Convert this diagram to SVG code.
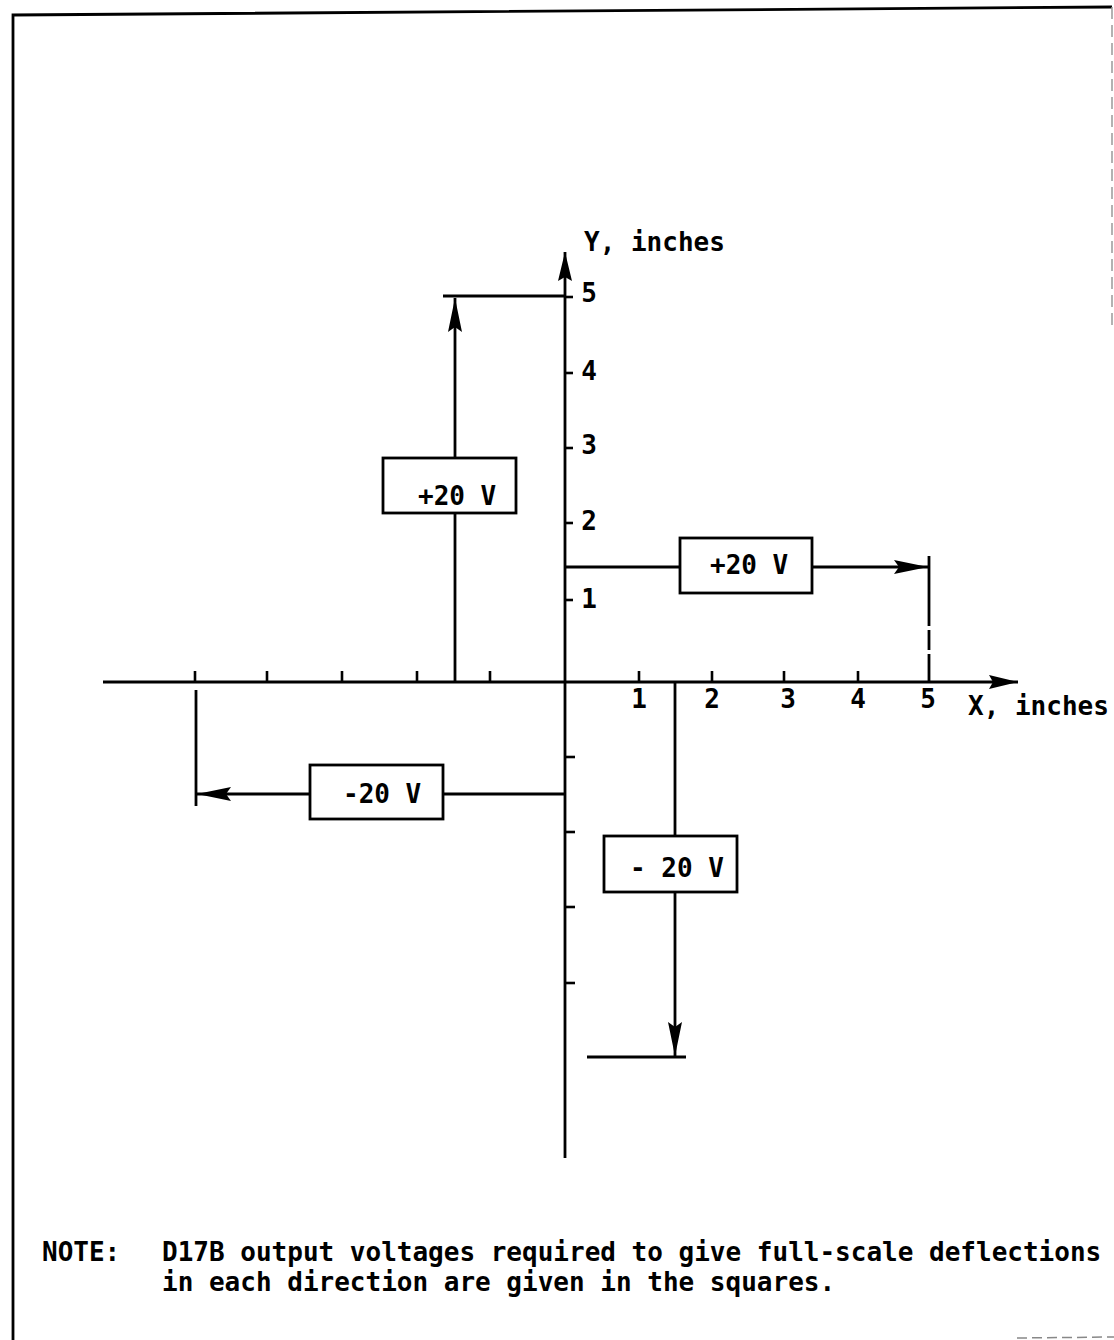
<svg xmlns="http://www.w3.org/2000/svg" width="1114" height="1340" viewBox="0 0 1114 1340">
<style>
.ln{stroke:#000;stroke-width:2.8;fill:none}
.bx{stroke:#000;stroke-width:2.8;fill:#fff}
.tk{stroke:#000;stroke-width:2.6}
.t{font-family:"DejaVu Sans Mono","Liberation Mono",monospace;font-size:26px;font-weight:bold;fill:#000}
.m{text-anchor:middle}
</style>
<defs>
<marker id="ah" markerUnits="userSpaceOnUse" markerWidth="36" markerHeight="16" refX="34" refY="8" orient="auto" viewBox="0 0 36 16">
<path d="M0,1 L34,8 L0,15 L5,8 Z" fill="#000"/>
</marker>
<marker id="ahs" markerUnits="userSpaceOnUse" markerWidth="30" markerHeight="16" refX="29" refY="8" orient="auto" viewBox="0 0 30 16">
<path d="M0,1 L29,8 L0,15 L4,8 Z" fill="#000"/>
</marker>
</defs>
<rect width="1114" height="1340" fill="#fff"/>
<g id="border">
<path d="M13,1340 L13,15 L1112,7" class="ln" stroke-width="3.5"/>
<path d="M1112,7 L1112,330" stroke="#999" stroke-width="1.5" stroke-dasharray="12 6"/>
<path d="M1017,1338 L1114,1337" stroke="#888" stroke-width="1.5" stroke-dasharray="10 5"/>
</g>
<g id="axes">
<path d="M565,1158 L565,252" class="ln" marker-end="url(#ahs)"/>
<path d="M103,682 L1018,682" class="ln" marker-end="url(#ahs)"/>
<g id="yticks">
<line x1="565" y1="297" x2="573" y2="297" class="tk"/>
<line x1="565" y1="373" x2="573" y2="373" class="tk"/>
<line x1="565" y1="448" x2="573" y2="448" class="tk"/>
<line x1="565" y1="523" x2="573" y2="523" class="tk"/>
<line x1="565" y1="600" x2="573" y2="600" class="tk"/>
<line x1="565" y1="757" x2="575" y2="757" class="tk"/>
<line x1="565" y1="832" x2="575" y2="832" class="tk"/>
<line x1="565" y1="907" x2="575" y2="907" class="tk"/>
<line x1="565" y1="983" x2="575" y2="983" class="tk"/>
</g>
<g id="xticks">
<line x1="195" y1="682" x2="195" y2="671" class="tk"/>
<line x1="267" y1="682" x2="267" y2="671" class="tk"/>
<line x1="342" y1="682" x2="342" y2="671" class="tk"/>
<line x1="417" y1="682" x2="417" y2="671" class="tk"/>
<line x1="490" y1="682" x2="490" y2="671" class="tk"/>
<line x1="639" y1="682" x2="639" y2="671" class="tk"/>
<line x1="712" y1="682" x2="712" y2="671" class="tk"/>
<line x1="784" y1="682" x2="784" y2="671" class="tk"/>
<line x1="858" y1="682" x2="858" y2="671" class="tk"/>
</g>
<g id="axis-labels">
<text x="584" y="251" class="t">Y, inches</text>
<text x="589" y="302" class="t m">5</text>
<text x="589" y="380" class="t m">4</text>
<text x="589" y="454" class="t m">3</text>
<text x="589" y="530" class="t m">2</text>
<text x="589" y="608" class="t m">1</text>
<text x="639" y="708" class="t m">1</text>
<text x="712" y="708" class="t m">2</text>
<text x="788" y="708" class="t m">3</text>
<text x="858" y="708" class="t m">4</text>
<text x="928" y="708" class="t m">5</text>
<text x="968" y="715" class="t">X, inches</text>
</g>
</g>
<g id="connectors">
<path d="M455,682 L455,514" class="ln"/>
<path d="M455,458 L455,298" class="ln" marker-end="url(#ah)"/>
<path d="M443,296 L565,296" class="ln"/>
<path d="M565,567 L680,567" class="ln"/>
<path d="M812,567 L928,567" class="ln" marker-end="url(#ah)"/>
<path d="M929,556 L929,682" class="ln" stroke-dasharray="70 4 20 4 30"/>
<path d="M565,794 L443,794" class="ln"/>
<path d="M310,794 L197,794" class="ln" marker-end="url(#ah)"/>
<path d="M196,690 L196,806" class="ln"/>
<path d="M675,682 L675,836" class="ln"/>
<path d="M675,892 L675,1056" class="ln" marker-end="url(#ah)"/>
<path d="M587,1057 L686,1057" class="ln"/>
</g>
<g id="box-up">
<rect x="383" y="458" width="133" height="55" class="bx"/>
<text x="418" y="505" class="t">+20 V</text>
</g>
<g id="box-right">
<rect x="680" y="538" width="132" height="55" class="bx"/>
<text x="710" y="574" class="t">+20 V</text>
</g>
<g id="box-left">
<rect x="310" y="765" width="133" height="54" class="bx"/>
<text x="343" y="803" class="t">-20 V</text>
</g>
<g id="box-down">
<rect x="604" y="836" width="133" height="56" class="bx"/>
<text x="630" y="877" class="t">- 20 V</text>
</g>
<g id="note">
<text x="42" y="1261" class="t">NOTE:</text>
<text x="162" y="1261" class="t">D17B output voltages required to give full-scale deflections</text>
<text x="162" y="1291" class="t">in each direction are given in the squares.</text>
</g>
</svg>
